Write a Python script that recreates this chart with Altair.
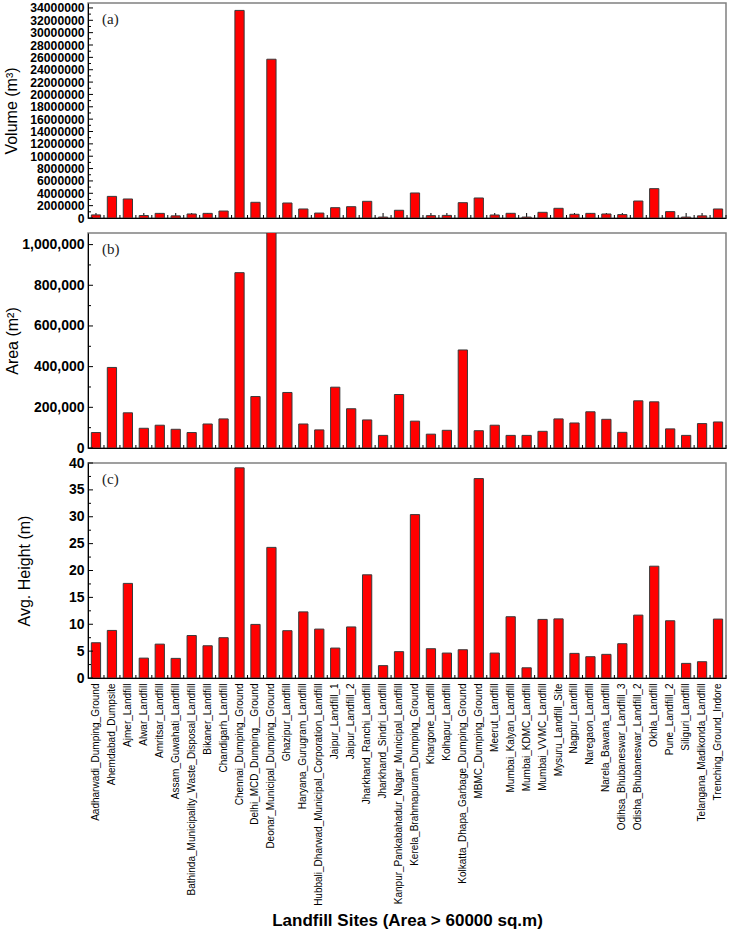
import altair as alt
import pandas as pd

sites = [
    "Aadharwadi_Dumping_Ground", "Ahemdabad_Dumpsite", "Ajmer_Landfill", "Alwar_Landfill",
    "Amritsar_Landfill", "Assam_Guwahati_Landfill", "Bathinda_Municipality_Waste_Disposal_Landfill",
    "Bikaner_Landfill", "Chandigarh_Landfill", "Chennai_Dumping_Ground", "Delhi_MCD_Dumping__Ground",
    "Deonar_Municipal_Dumping_Ground", "Ghazipur_Landfill", "Haryana_Gurugram_Landfill",
    "Hubbali_Dharwad_Municipal_Corporation_Landfill", "Jaipur_Landfill_1", "Jaipur_Landfill_2",
    "Jharkhand_Ranchi_Landfill", "Jharkhand_Sindri_Landfill",
    "Kanpur_Pankabahadur_Nagar_Municipal_Landfill", "Kerela_Brahmapuram_Dumping_Ground",
    "Khargone_Landfill", "Kolhapur_Landfill", "Kolkatta_Dhapa_Garbage_Dumping_Ground",
    "MBMC_Dumping_Ground", "Meerut_Landfill", "Mumbai_Kalyan_Landfill", "Mumbai_KDMC_Landfill",
    "Mumbai_VVMC_Landfill", "Mysuru_Landfill_Site", "Nagpur_Landfill", "Naregaon_Landfill",
    "Narela_Bawana_Landfill", "Odihsa_Bhubaneswar_Landfill_3", "Odisha_Bhubaneswar_Landfill_2",
    "Okhla_Landfill", "Pune_Landfill_2", "Siliguri_Landfill", "Telangana_Madikonda_Landfill",
    "Trenching_Ground_Indore",
]

volume = [
    500000, 3500000, 3080000, 400000, 750000, 350000, 650000, 750000, 1130000, 33600000,
    2540000, 25700000, 2430000, 1460000, 800000, 1670000, 1830000, 2700000, 150000, 1250000,
    4050000, 380000, 420000, 2480000, 3240000, 490000, 760000, 150000, 920000, 1570000,
    600000, 750000, 650000, 550000, 2750000, 4750000, 1030000, 150000, 350000, 1460000,
]

area = [
    76000, 396000, 173000, 97000, 112000, 92000, 76000, 118000, 143000, 862000,
    253000, 1100000, 273000, 118000, 89000, 299000, 193000, 138000, 62000, 263000,
    132000, 68000, 87000, 482000, 85000, 112000, 62000, 62000, 82000, 143000,
    123000, 178000, 141000, 77000, 232000, 227000, 94000, 62000, 120000, 128000,
]

height = [
    6.56, 8.85, 17.6, 3.7, 6.3, 3.65, 7.9, 6.0, 7.5, 39.1,
    9.97, 24.3, 8.8, 12.3, 9.1, 5.57, 9.5, 19.2, 2.3, 4.9,
    30.4, 5.45, 4.64, 5.26, 37.1, 4.64, 11.4, 1.9, 10.9, 11.0,
    4.58, 3.96, 4.4, 6.38, 11.7, 20.8, 10.65, 2.72, 3.03, 10.96,
]

vol_major = list(range(0, 34000001, 2000000))
vol_minor = list(range(1000000, 34000001, 2000000))
area_major = list(range(0, 1000001, 200000))
area_minor = list(range(100000, 1000001, 200000))
h_major = [0, 5, 10, 15, 20, 25, 30, 35, 40]
h_minor = [2.5, 7.5, 12.5, 17.5, 22.5, 27.5, 32.5, 37.5]

df = pd.DataFrame({"site": sites, "volume": volume, "area": area, "height": height})

W = 638
H = 215


def panel(field, title, domain, major, minor, fmt, tag, tpad, lsize, bottom):
    xscale = alt.Scale(paddingInner=0.42, paddingOuter=0.21)
    yscale = alt.Scale(domain=domain, nice=False, zero=True)
    if bottom:
        xaxis = alt.Axis(
            orient="bottom",
            labelAngle=270, labelFontSize=10, labelPadding=5, labelLimit=400,
            labelAlign="right", labelBaseline="middle",
            ticks=False, domainColor="black",
            title="Landfill Sites (Area > 60000 sq.m)", titleFontSize=17,
            titleFontWeight="bold", titleBaseline="alphabetic", titleY=247,
        )
    else:
        xaxis = alt.Axis(orient="bottom", labels=False, ticks=False, title=None,
                         domainColor="black")

    bars = alt.Chart(df).mark_bar(
        color="#ff0000", stroke="#3a3a3a", strokeWidth=1, clip=True
    ).encode(
        x=alt.X("site:N", sort=sites, scale=xscale, axis=xaxis),
        y=alt.Y(
            f"{field}:Q", scale=yscale,
            axis=alt.Axis(
                orient="left",
                values=major, format=fmt, title=title, ticks=False, labelPadding=4,
                titlePadding=tpad, labelFontSize=lsize, labelFontWeight="bold",
                titleFontSize=16, titleFontWeight="normal", domainColor="black",
                grid=False, labelOverlap=False,
            ),
        ),
    )
    xt = alt.Chart(df).mark_rule(color="black", strokeWidth=1).encode(
        x=alt.X("site:N", sort=sites, scale=xscale, axis=None),
        y=alt.value(H), y2=alt.value(H - 5),
    )
    xt_minor = alt.Chart(df).mark_rule(color="black", strokeWidth=1, xOffset=8).encode(
        x=alt.X("site:N", sort=sites, scale=xscale, axis=None),
        y=alt.value(H), y2=alt.value(H - 3),
    )
    yt = alt.Chart(pd.DataFrame({"t": major})).mark_rule(color="black").encode(
        y=alt.Y("t:Q", scale=yscale, axis=None), x=alt.value(0), x2=alt.value(5)
    )
    yt_minor = alt.Chart(pd.DataFrame({"t": minor})).mark_rule(color="black").encode(
        y=alt.Y("t:Q", scale=yscale, axis=None), x=alt.value(0), x2=alt.value(3)
    )
    lab = alt.Chart(pd.DataFrame({"lab": [tag]})).mark_text(
        font="Liberation Serif", fontSize=15, align="left", baseline="middle", color="#222"
    ).encode(text="lab:N", x=alt.value(14), y=alt.value(16))
    return alt.layer(xt, xt_minor, bars, yt, yt_minor, lab).resolve_axis(
        x="independent", y="independent"
    ).properties(width=W, height=H)


pa = panel("volume", "Volume (m³)", [0, 34800000], vol_major, vol_minor, "d", "(a)", 10, 12.2, False)
pb = panel("area", "Area (m²)", [0, 1057000], area_major, area_minor, ",d", "(b)", 1, 14, False)
pc = panel("height", "Avg. Height (m)", [0, 40], h_major, h_minor, "d", "(c)", 36, 14, True)

chart = alt.vconcat(pa, pb, pc, spacing=15, bounds="flush").properties(
    padding={"left": 3, "right": 1, "top": 1, "bottom": 4}
).configure(font="Liberation Sans").configure_view(
    stroke="#808080", strokeWidth=1.5
).configure_axis(labelColor="black", titleColor="black")

chart.save("out.html", embed_options={"renderer": "svg", "actions": False})
